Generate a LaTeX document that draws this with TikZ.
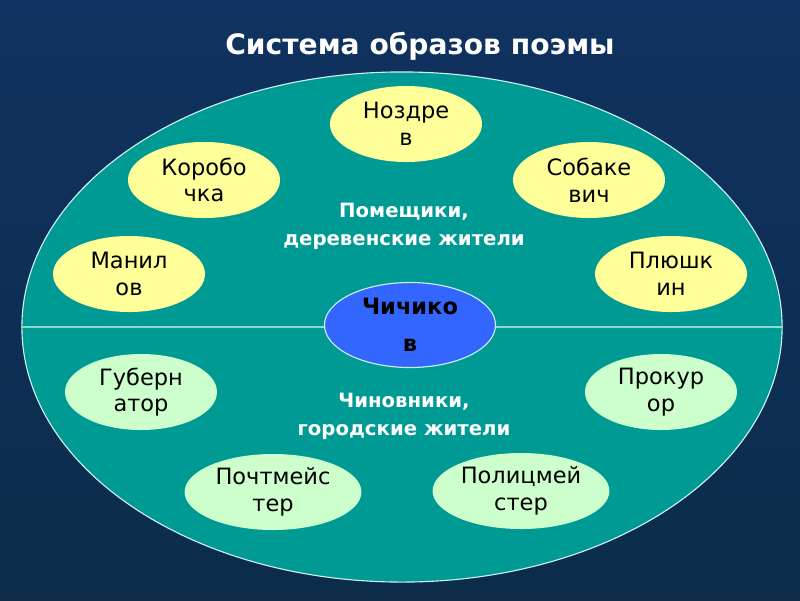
\documentclass[tikz,border=0pt]{standalone}
\usepackage{fontspec}
\setmainfont{DejaVu Sans}
\usetikzlibrary{shapes.geometric}
\definecolor{navytop}{HTML}{103260}
\definecolor{navymid}{HTML}{2459AA}
\definecolor{navybot}{HTML}{0C2C4A}
\definecolor{ovalfill}{HTML}{009A95}
\definecolor{ovalline}{HTML}{CDEFEF}
\definecolor{midline}{HTML}{8ED8D2}
\definecolor{pomfill}{HTML}{FFFF99}
\definecolor{chinfill}{HTML}{CCFFCC}
\definecolor{heroblue}{HTML}{3366FF}

\begin{document}
\begin{tikzpicture}[x=0.025cm,y=-0.025cm,
  pom/.style={ellipse,fill=pomfill,inner sep=0pt,minimum width=3.8cm,
    minimum height=1.9cm,align=center,font=\fontsize{16}{19}\selectfont},
  chin/.style={pom,fill=chinfill},
  chinwide/.style={chin,minimum width=4.42cm},
  zag/.style={white,align=center,font=\bfseries\fontsize{14}{20}\selectfont}]
\useasboundingbox (0,0) rectangle (800,600);
\shade[top color=navytop,middle color=navymid,bottom color=navybot] (0,0) rectangle (800,600);
%% заголовок
\node[white,font=\bfseries\fontsize{20}{24}\selectfont] (title) at (420,46) {Система образов поэмы};
%% большой овал
\node[ellipse,fill=ovalfill,draw=ovalline,line width=0.8pt,minimum width=19cm,minimum height=12.75cm] (oval) at (402,327) {};
\draw[midline,line width=1.2pt] (oval.west) -- (oval.east);
%% помещики
\node[pom] (nozdrev) at (406,124) {Ноздре\\в};
\node[pom] (korobochka) at (204,180) {Коробо\\чка};
\node[pom] (sobakevich) at (589,180) {Собаке\\вич};
\node[pom] (manilov) at (129,274) {Манил\\ов};
\node[pom] (plyushkin) at (671,274) {Плюшк\\ин};
\node[zag] (pomeshiki) at (404,226) {Помещики,\\деревенские жители};
%% Чичиков
\node[ellipse,fill=heroblue,draw=ovalline,line width=0.8pt,inner sep=0pt,minimum width=4.275cm,minimum height=2.125cm,
  align=center,font=\bfseries\fontsize{16}{26}\selectfont] (chichikov) at (410,325) {Чичико\\в};
%% чиновники
\node[zag] (chinovniki) at (404,416) {Чиновники,\\городские жители};
\node[chin] (gubernator) at (141,392) {Губерн\\атор};
\node[chin] (prokuror) at (661,392) {Прокур\\ор};
\node[chinwide] (pochtmeister) at (273,492) {Почтмейс\\тер};
\node[chinwide] (politsmeister) at (521,491) {Полицмей\\стер};

\end{tikzpicture}
\end{document}
